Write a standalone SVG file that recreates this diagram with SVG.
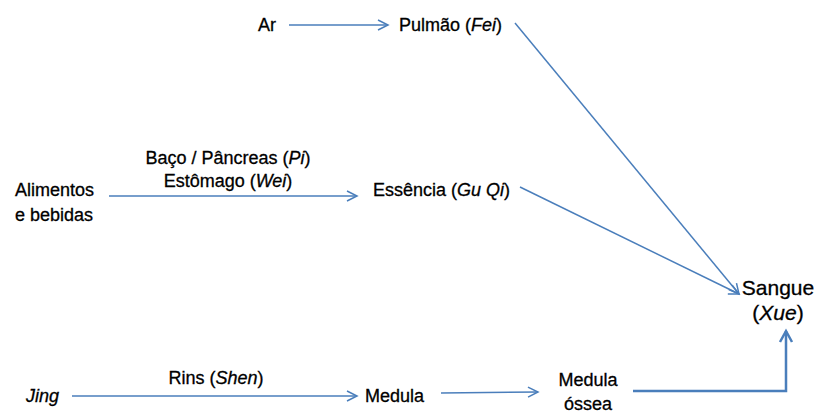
<svg xmlns="http://www.w3.org/2000/svg" width="820" height="413" viewBox="0 0 820 413">
<defs>
<style>
text{font-family:"Liberation Sans",Arial,sans-serif;font-size:18px;fill:#000;stroke:#000;stroke-width:0.3}
.c{text-anchor:middle}
.big{font-size:21px}
.ln{stroke:#4A7EBB;stroke-width:1.5;fill:none}
.thick{stroke-width:2.5}
</style>
<marker id="open" markerUnits="userSpaceOnUse" markerWidth="14" markerHeight="14" refX="11" refY="6" orient="auto" viewBox="0 0 14 12">
<path d="M1,1 L11,6 L1,11" fill="none" stroke="#4A7EBB" stroke-width="1.5"/>
</marker>
<marker id="open2" markerUnits="userSpaceOnUse" markerWidth="16" markerHeight="16" refX="12" refY="7" orient="auto" viewBox="0 0 16 14">
<path d="M1,1 L12,7 L1,13" fill="none" stroke="#4A7EBB" stroke-width="2.5"/>
</marker>
</defs>
<rect width="820" height="413" fill="#fff"/>
<g id="connectors">
<line class="ln" x1="289" y1="25" x2="388" y2="25" marker-end="url(#open)"/>
<line class="ln" x1="109" y1="196" x2="357" y2="196" marker-end="url(#open)"/>
<line class="ln" x1="72" y1="396" x2="357" y2="396" marker-end="url(#open)"/>
<line class="ln" x1="441" y1="393" x2="538" y2="392" marker-end="url(#open)"/>
<line class="ln" x1="515" y1="23" x2="739" y2="294" marker-end="url(#open)"/>
<line class="ln" x1="520" y1="187" x2="739" y2="294" marker-end="url(#open)"/>
<polyline class="ln thick" points="633,391 786,391 786,331" marker-end="url(#open2)"/>
</g>
<g id="ar"><text x="258" y="31">Ar</text></g>
<g id="pulmao"><text x="399" y="31">Pulmão (<tspan font-style="italic">Fei</tspan>)</text></g>
<g id="alimentos"><text x="15" y="196">Alimentos</text><text x="15" y="221">e bebidas</text></g>
<g id="baco"><text class="c" x="228" y="164">Baço / Pâncreas (<tspan font-style="italic">Pi</tspan>)</text><text class="c" x="228" y="187">Estômago (<tspan font-style="italic">Wei</tspan>)</text></g>
<g id="essencia"><text x="373" y="196">Essência (<tspan font-style="italic">Gu Qi</tspan>)</text></g>
<g id="sangue"><text class="c big" x="778" y="295">Sangue</text><text class="c big" x="778" y="320">(<tspan font-style="italic">Xue</tspan>)</text></g>
<g id="jing"><text x="26" y="402" font-style="italic">Jing</text></g>
<g id="rins"><text class="c" x="216" y="384">Rins (<tspan font-style="italic">Shen</tspan>)</text></g>
<g id="medula"><text x="365" y="402">Medula</text></g>
<g id="medula-ossea"><text class="c" x="588" y="386">Medula</text><text class="c" x="588" y="410">óssea</text></g>
</svg>
